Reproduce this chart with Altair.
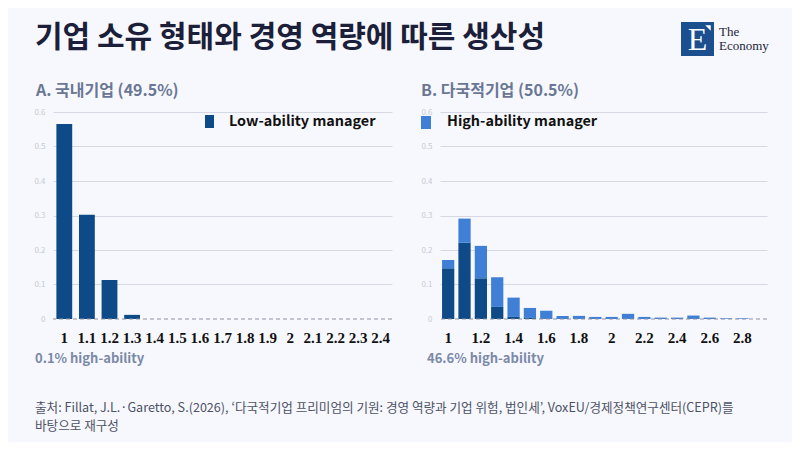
import altair as alt
import pandas as pd

# ---------------- texts ----------------
title = "기업 소유 형태와 경영 역량에 따른 생산성"
subtitle_a = "A. 국내기업 (49.5%)"
subtitle_b = "B. 다국적기업 (50.5%)"
note_a = "0.1% high-ability"
note_b = "46.6% high-ability"
legend_low = "Low-ability manager"
legend_high = "High-ability manager"
source_1 = "출처: Fillat, J.L.·Garetto, S.(2026), ‘다국적기업 프리미엄의 기원: 경영 역량과 기업 위험, 법인세’, VoxEU/경제정책연구센터(CEPR)를"
source_2 = "바탕으로 재구성"

# ---------------- data ----------------
cats_a = ["1", "1.1", "1.2", "1.3", "1.4", "1.5", "1.6", "1.7", "1.8", "1.9",
          "2", "2.1", "2.2", "2.3", "2.4"]
low_a = [0.565, 0.302, 0.113, 0.012, 0, 0, 0, 0, 0, 0, 0, 0, 0, 0, 0]

cats_b = ["1", "1.1", "1.2", "1.3", "1.4", "1.5", "1.6", "1.7", "1.8", "1.9",
          "2", "2.1", "2.2", "2.3", "2.4", "2.5", "2.6", "2.7", "2.8", "2.9"]
low_b = [0.147, 0.221, 0.118, 0.035, 0.006, 0.003, 0, 0, 0, 0,
         0, 0, 0, 0, 0, 0, 0, 0, 0, 0]
high_b = [0.024, 0.070, 0.094, 0.086, 0.056, 0.029, 0.024, 0.009, 0.009, 0.006,
          0.006, 0.015, 0.006, 0.004, 0.004, 0.010, 0.004, 0.002, 0.002, 0]

ticks_b = ["1", "1.2", "1.4", "1.6", "1.8", "2", "2.2", "2.4", "2.6", "2.8"]
y_ticks = [0, 0.1, 0.2, 0.3, 0.4, 0.5, 0.6]
baseline = [0]

# ---------------- style ----------------
BG = "#f7f8fd"
DARK = "#0e4a87"
LIGHT = "#3f80d6"
GRID = "#d5d8e3"
SUB = "#6a7794"
NOTE = "#7b89a8"
KR = "Noto Sans CJK KR"
SERIF = "Liberation Serif"

df_a = pd.DataFrame({"cat": cats_a, "value": low_a})
rows = []
for c, lo, hi in zip(cats_b, low_b, high_b):
    rows.append({"cat": c, "series": "Low-ability manager", "ord": 0, "value": lo})
    rows.append({"cat": c, "series": "High-ability manager", "ord": 1, "value": hi})
df_b = pd.DataFrame(rows)
df_base = pd.DataFrame({"value": baseline})


def y_axis():
    return alt.Axis(values=y_ticks, labelExpr="datum.value == 0 ? '0' : format(datum.value, '.1f')",
                    labelFont=KR, labelFontSize=8, labelColor="#c6c9d4", labelPadding=8,
                    ticks=False, domain=False, title=None, grid=True, gridColor=GRID,
                    gridOpacity={"condition": {"test": "datum.value === 0", "value": 0}, "value": 1})


def y_enc(stack=True):
    kw = dict(scale=alt.Scale(domain=[0, 0.6], nice=False), axis=y_axis())
    if stack:
        kw["stack"] = True
    return alt.Y("value:Q", **kw)


def x_axis(values=None):
    kw = dict(labelFont=SERIF, labelFontSize=15, labelFontWeight="bold", labelColor="#111111",
              labelAngle=0, labelPadding=11, ticks=False, tickSize=0, domain=False, title=None,
              grid=False)
    if values is not None:
        kw["values"] = values
    return alt.Axis(**kw)


def txt(text, x, y, size, color, weight="normal", font=KR, align="left", line_height=None):
    props = dict(align=align, baseline="middle", font=font, fontSize=size, fontWeight=weight, color=color)
    if line_height is not None:
        props["lineHeight"] = line_height
    return alt.Chart(pd.DataFrame({"a": [0]})).mark_text(**props).encode(
        text=alt.value(text), x=alt.value(x), y=alt.value(y))


def box(x, x2, y, y2, color, opacity=1):
    return alt.Chart(pd.DataFrame({"a": [0]})).mark_rect(color=color, opacity=opacity).encode(
        x=alt.value(x), x2=alt.value(x2), y=alt.value(y), y2=alt.value(y2))


def base_rule():
    return alt.Chart(df_base).mark_rule(color="#8d92a3", strokeDash=[4, 3], strokeWidth=1).encode(
        y=y_enc(stack=False))


# ---------------- panel A ----------------
anchor = box(-45, 739, -104, 330, BG, opacity=0)
bars_a = alt.Chart(df_a).mark_bar(color=DARK).encode(
    x=alt.X("cat:N", sort=cats_a, scale=alt.Scale(paddingInner=0.3, paddingOuter=0.15), axis=x_axis()),
    y=y_enc(),
)

logo = box(628, 661, -90, -56, "#1b4f8e")
logo_e = txt("E", 644.5, -72, 32, "#ffffff", font=SERIF, align="center")
logo_tick = alt.Chart(pd.DataFrame({"a": [0]})).mark_point(
    shape="M-1,-1L1,-1L1,1Z", filled=True, color="#ffffff", opacity=1, size=30
).encode(x=alt.value(655), y=alt.value(-84))
logo_t1 = txt("The", 666, -80, 13, "#1c1f3a", font=SERIF)
logo_t2 = txt("Economy", 666, -66, 13, "#1c1f3a", font=SERIF)

panel_a = alt.layer(
    anchor, bars_a, base_rule(),
    txt(title, -18, -74, 30, "#1c1f3a", weight="bold"),
    logo, logo_e, logo_tick, logo_t1, logo_t2,
    txt(subtitle_a, -17, -21, 16, SUB, weight="bold"),
    box(152, 161, 3, 16, DARK),
    txt(legend_low, 176, 10, 14.4, "#111111", weight="bold"),
    txt(note_a, -18, 247, 13, NOTE, weight="bold"),
    txt([source_1, source_2], -18, 296, 12.6, "#4d5266", line_height=18),
).properties(width=339, height=207)

# ---------------- panel B ----------------
bars_b = alt.Chart(df_b).mark_bar().encode(
    x=alt.X("cat:N", sort=cats_b, scale=alt.Scale(paddingInner=0.25, paddingOuter=0.125),
            axis=x_axis(ticks_b)),
    y=y_enc(),
    color=alt.Color("series:N", scale=alt.Scale(domain=["Low-ability manager", "High-ability manager"],
                                                 range=[DARK, LIGHT]), legend=None),
    order=alt.Order("ord:Q"),
)

panel_b = alt.layer(
    bars_b, base_rule(),
    txt(subtitle_b, -19, -21, 16, SUB, weight="bold"),
    box(-19, -9, 4, 17, LIGHT),
    txt(legend_high, 7, 10, 14.4, "#111111", weight="bold"),
    txt(note_b, -13, 247, 13, NOTE, weight="bold"),
).properties(width=327, height=207)

chart = alt.hconcat(panel_a, panel_b, spacing=48, bounds="flush").resolve_scale(
    x="independent", color="independent"
).properties(padding=0).configure(background=BG).configure_view(stroke=None)

chart.save("out.html", embed_options={"renderer": "svg", "actions": False})
